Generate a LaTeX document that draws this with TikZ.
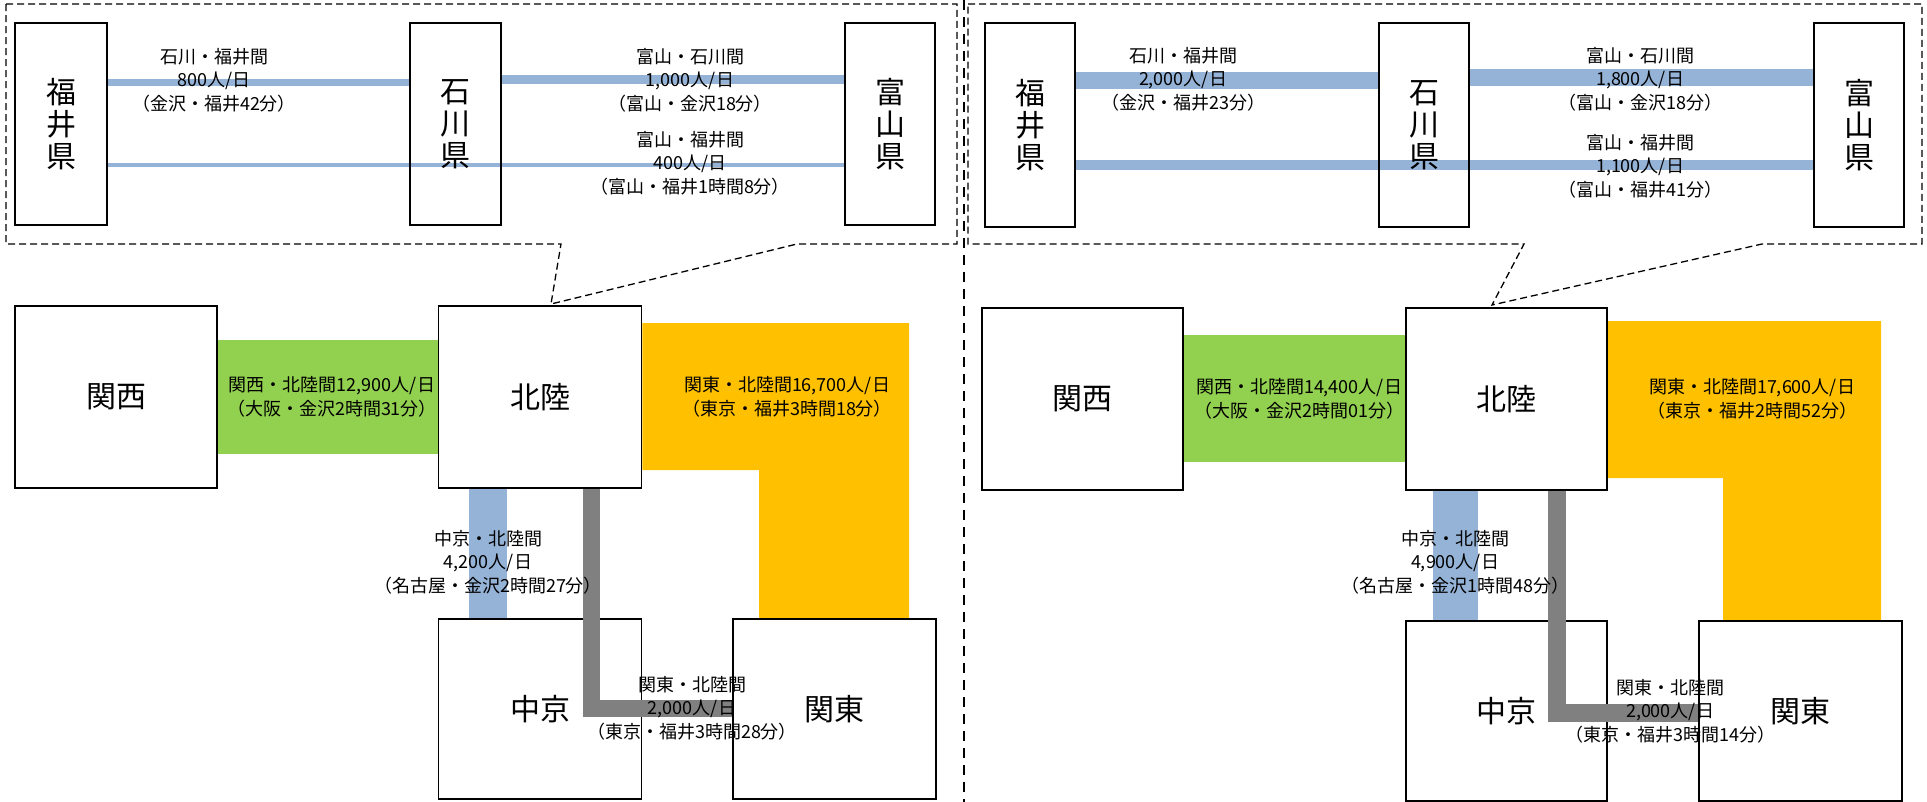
\documentclass[tikz,border=0pt]{standalone}
\usepackage{fontspec}
\setmainfont{Noto Sans CJK JP}
\usetikzlibrary{backgrounds}
\definecolor{bandblue}{HTML}{95B3D7}
\definecolor{bandgreen}{HTML}{92D050}
\definecolor{bandorange}{HTML}{FFC000}
\definecolor{bandgray}{HTML}{808080}
\begin{document}
\begin{tikzpicture}[x=1pt,y=-1pt,
  box/.style={draw=black, line width=1.5pt, fill=white, inner sep=0pt, align=center,
    font=\fontsize{30}{32}\selectfont},
  pbox/.style={box, fill=none},
  lbl/.style={font=\fontsize{18}{23.5}\selectfont, align=center, inner sep=0pt},
  callout/.style={draw=black, line width=1.3pt, dash pattern=on 7pt off 4pt},
  sepline/.style={draw=black, line width=2.5pt, dash pattern=on 10pt off 7pt}]
\useasboundingbox (0,0) rectangle (1927,802);

% ---------- left panel: top boxes ----------
\node[pbox,minimum width=92pt,minimum height=202pt] (fkL) at (61,124) {福\\井\\県};
\node[pbox,minimum width=91pt,minimum height=202pt] (isL) at (455.5,124) {石\\川\\県};
\node[pbox,minimum width=90pt,minimum height=202pt] (tyL) at (890,124) {富\\山\\県};
\begin{pgfonlayer}{background}
\draw[bandblue, line width=6.5pt] (fkL.east |- 0,82.5) -- (isL.west |- 0,82.5);
\draw[bandblue, line width=9pt] (isL.east |- 0,80) -- (tyL.west |- 0,80);
\draw[bandblue, line width=4pt] (fkL.east |- 0,165) -- (tyL.west |- 0,165);
\end{pgfonlayer}

% ---------- left panel: lower boxes ----------
\node[box,minimum width=202pt,minimum height=182pt] (ksL) at (116,397) {関西};
\node[box,minimum width=203pt,minimum height=182pt] (hrL) at (540,397) {北陸};
\node[box,minimum width=203pt,minimum height=180pt] (ckL) at (540,709) {中京};
\node[box,minimum width=203pt,minimum height=180pt] (ktL) at (834.5,709) {関東};
\begin{pgfonlayer}{background}
\fill[bandgreen] (ksL.east |- 0,340) rectangle (hrL.west |- 0,454);
\fill[bandorange] (hrL.east |- 0,323) -- (909,323) -- (909,0 |- ktL.north) -- (759,0 |- ktL.north) -- (759,470) -- (hrL.east |- 0,470) -- cycle;
\fill[bandblue] (469,0 |- hrL.south) rectangle (507,0 |- ckL.north);
\end{pgfonlayer}
\draw[bandgray, line width=17pt] (591.5,0 |- hrL.south) |- (ktL.west |- 0,708.5);

% callout left
\coordinate (apL) at (551,304);
\draw[callout] (6,4) -- (957,4) -- (957,244) -- (797,244) -- (apL) -- (561,244) -- (6,244) -- cycle;

% labels left
\node[lbl] (tL1) at (214,80) {石川・福井間\\800人/日\\（金沢・福井42分）};
\node[lbl] (tL2) at (690,80) {富山・石川間\\1,000人/日\\（富山・金沢18分）};
\node[lbl] (tL3) at (690,163) {富山・福井間\\400人/日\\（富山・福井1時間8分）};
\node[lbl] (bL1) at (332,397) {関西・北陸間12,900人/日\\（大阪・金沢2時間31分）};
\node[lbl] (bL2) at (787,397) {関東・北陸間16,700人/日\\（東京・福井3時間18分）};
\node[lbl] (bL3) at (488,562) {中京・北陸間\\4,200人/日\\（名古屋・金沢2時間27分）};
\node[lbl] (bL4) at (692,708) {関東・北陸間\\2,000人/日\\（東京・福井3時間28分）};

% ---------- separator ----------
\coordinate (sepT) at (964,0);
\coordinate (sepB) at (964,802);
\draw[sepline] (sepT) -- (sepB);

% ---------- right panel: top boxes ----------
\node[pbox,minimum width=90pt,minimum height=204pt] (fkR) at (1030,125) {福\\井\\県};
\node[pbox,minimum width=90pt,minimum height=204pt] (isR) at (1424,125) {石\\川\\県};
\node[pbox,minimum width=90pt,minimum height=204pt] (tyR) at (1859,125) {富\\山\\県};
\begin{pgfonlayer}{background}
\draw[bandblue, line width=17pt] (fkR.east |- 0,80.5) -- (isR.west |- 0,80.5);
\draw[bandblue, line width=16.5pt] (isR.east |- 0,77.5) -- (tyR.west |- 0,77.5);
\draw[bandblue, line width=10pt] (fkR.east |- 0,165) -- (tyR.west |- 0,165);
\end{pgfonlayer}

% ---------- right panel: lower boxes ----------
\node[box,minimum width=201pt,minimum height=182pt] (ksR) at (1082.5,399) {関西};
\node[box,minimum width=201pt,minimum height=182pt] (hrR) at (1506.5,399) {北陸};
\node[box,minimum width=201pt,minimum height=180pt] (ckR) at (1506.5,711) {中京};
\node[box,minimum width=203pt,minimum height=180pt] (ktR) at (1800.5,711) {関東};
\begin{pgfonlayer}{background}
\fill[bandgreen] (ksR.east |- 0,335) rectangle (hrR.west |- 0,462);
\fill[bandorange] (hrR.east |- 0,321) -- (1881,321) -- (1881,0 |- ktR.north) -- (1723,0 |- ktR.north) -- (1723,478) -- (hrR.east |- 0,478) -- cycle;
\fill[bandblue] (1433,0 |- hrR.south) rectangle (1478,0 |- ckR.north);
\end{pgfonlayer}
\draw[bandgray, line width=18pt] (1557,0 |- hrR.south) |- (ktR.west |- 0,712.5);

% callout right
\coordinate (apR) at (1492,305);
\draw[callout] (968,4) -- (1922,4) -- (1922,244) -- (1762,244) -- (apR) -- (1524,244) -- (968,244) -- cycle;

% labels right
\node[lbl] (tR1) at (1183,79) {石川・福井間\\2,000人/日\\（金沢・福井23分）};
\node[lbl] (tR2) at (1640,79) {富山・石川間\\1,800人/日\\（富山・金沢18分）};
\node[lbl] (tR3) at (1640,166) {富山・福井間\\1,100人/日\\（富山・福井41分）};
\node[lbl] (bR1) at (1299,399) {関西・北陸間14,400人/日\\（大阪・金沢2時間01分）};
\node[lbl] (bR2) at (1752,399) {関東・北陸間17,600人/日\\（東京・福井2時間52分）};
\node[lbl] (bR3) at (1455,562) {中京・北陸間\\4,900人/日\\（名古屋・金沢1時間48分）};
\node[lbl] (bR4) at (1670,711) {関東・北陸間\\2,000人/日\\（東京・福井3時間14分）};
\end{tikzpicture}
\end{document}
